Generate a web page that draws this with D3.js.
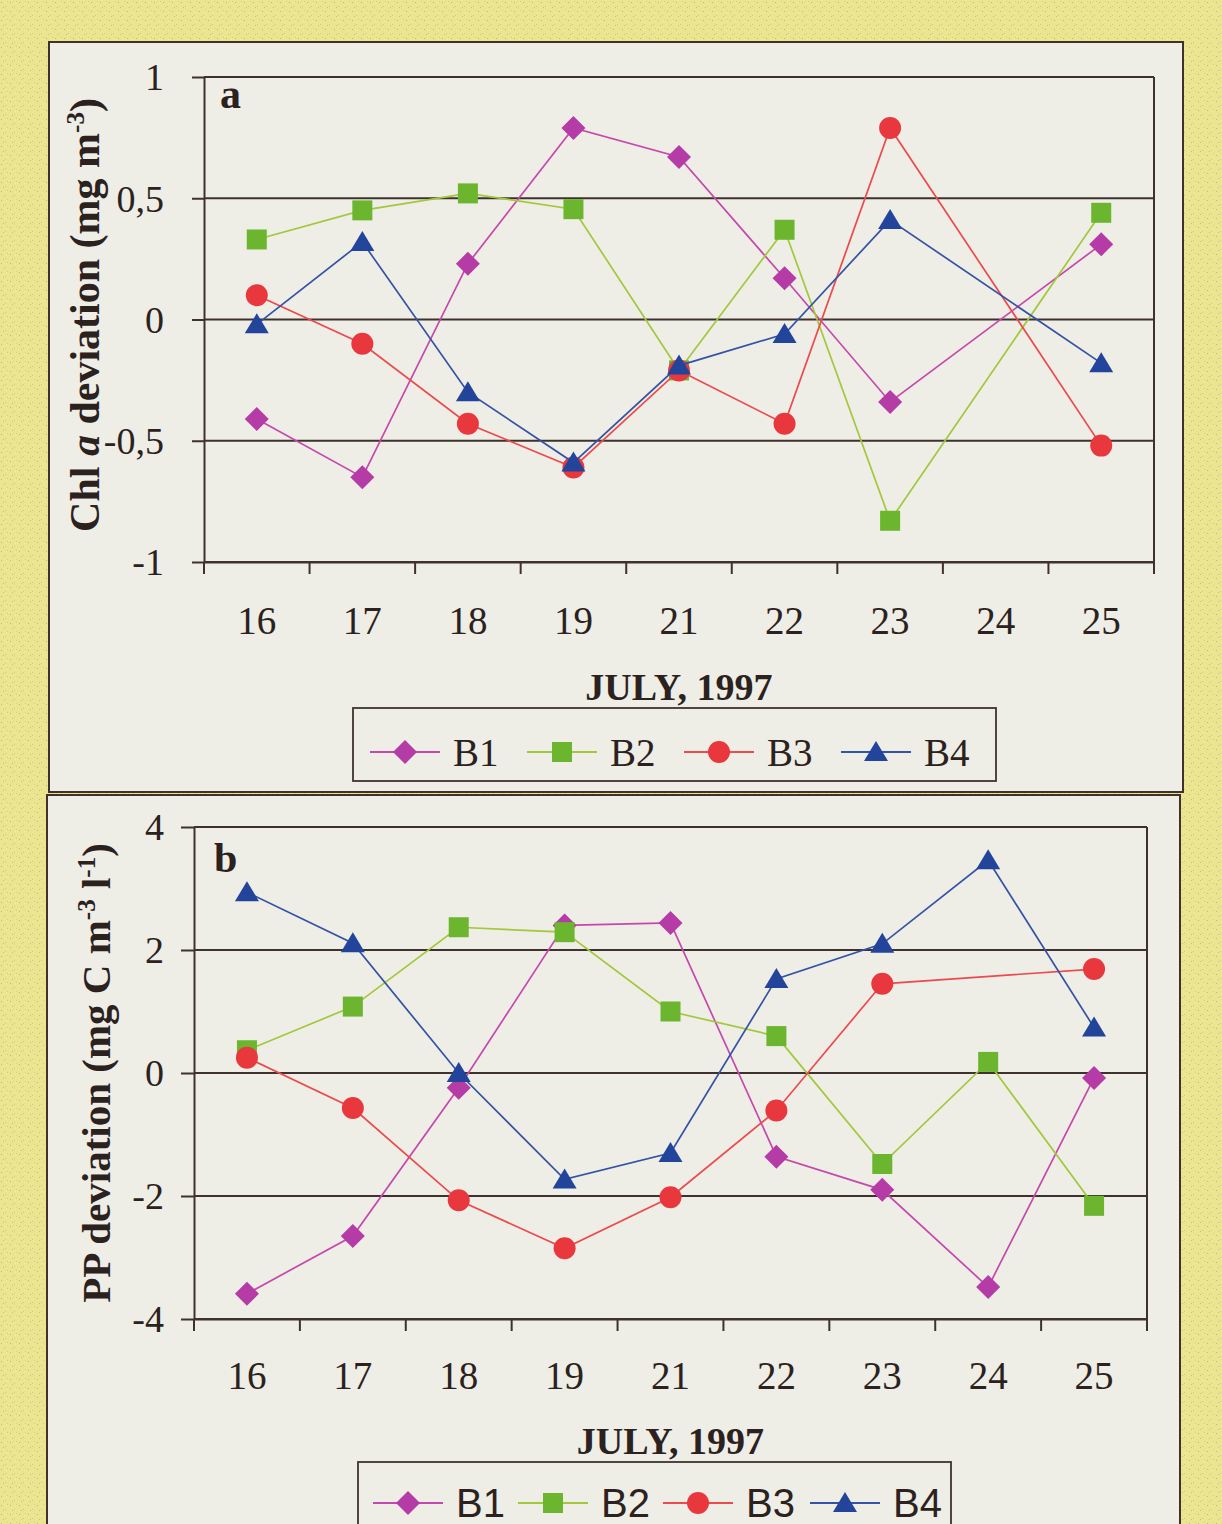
<!DOCTYPE html>
<html>
<head>
<meta charset="utf-8">
<script src="https://cdn.jsdelivr.net/npm/d3@7"></script>
<style>
  html, body { margin: 0; padding: 0; background: #ebe38e; }
  svg { display: block; }
</style>
</head>
<body>
<svg id="fig" width="1222" height="1524"></svg>
<script>
// Sampling days (July 1997) and stations
const days = ["16", "17", "18", "19", "21", "22", "23", "24", "25"];
const stations = ["B1", "B2", "B3", "B4"];

// Panel a: Chl a deviation (mg m-3); no sample on the 24th
const chlB1 = [-0.41, -0.65, 0.23, 0.79, 0.67, 0.17, -0.34, null, 0.31];
const chlB2 = [0.33, 0.45, 0.52, 0.455, -0.21, 0.37, -0.83, null, 0.44];
const chlB3 = [0.10, -0.10, -0.43, -0.61, -0.21, -0.43, 0.79, null, -0.52];
const chlB4 = [-0.02, 0.32, -0.30, -0.59, -0.19, -0.06, 0.41, null, -0.18];
const chlTicks = [-1, -0.5, 0, 0.5, 1];

// Panel b: PP deviation (mg C m-3 l-1)
const ppB1 = [-3.59, -2.65, -0.24, 2.40, 2.44, -1.36, -1.90, -3.48, -0.08];
const ppB2 = [0.37, 1.08, 2.37, 2.29, 1.00, 0.60, -1.48, 0.18, -2.16];
const ppB3 = [0.25, -0.57, -2.07, -2.85, -2.02, -0.61, 1.45, null, 1.69];
const ppB4 = [2.94, 2.11, 0.00, -1.73, -1.30, 1.53, 2.10, 3.46, 0.74];
const ppTicks = [-4, -2, 0, 2, 4];

const xTitle = "JULY, 1997";

const ink = "#3f322e";
const serif = "'Liberation Serif', 'Times New Roman', serif";
const sans = "'Liberation Sans', Arial, sans-serif";

const styles = {
  B1: { shape: "diamond", fill: "#b53ba6", line: "#c648ad" },
  B2: { shape: "square",  fill: "#6cb52e", line: "#a2c83c" },
  B3: { shape: "circle",  fill: "#e8383d", line: "#ec4a4c" },
  B4: { shape: "triangle", fill: "#22459b", line: "#3553a4" }
};

const svg = d3.select("#fig");

// speckled paper background
const defs = svg.append("defs");
const pat = defs.append("pattern").attr("id", "speck")
  .attr("width", 9).attr("height", 9).attr("patternUnits", "userSpaceOnUse");
pat.append("rect").attr("width", 9).attr("height", 9).attr("fill", "#ece58f");
[[1, 2, "#b9b58e"], [5, 6, "#c6c7a6"], [7, 1, "#d8cf86"], [3, 7, "#bfc0a2"], [6, 3, "#f3ee9c"]]
  .forEach(([px, py, c]) => pat.append("rect").attr("x", px).attr("y", py)
    .attr("width", 1).attr("height", 1).attr("fill", c));
svg.append("rect").attr("width", 1222).attr("height", 1524).attr("fill", "url(#speck)");

function markerPath(shape) {
  switch (shape) {
    case "diamond": return "M0,-12L12,0L0,12L-12,0Z";
    case "square": return "M-10,-10H10V10H-10Z";
    case "triangle": return "M0,-11L12,9L-12,9Z";
    default: return d3.arc()({ innerRadius: 0, outerRadius: 11, startAngle: 0, endAngle: 2 * Math.PI });
  }
}

const tickFmt = d => String(d).replace(".", ",");

function drawPanel(p) {
  const g = svg.append("g");

  g.append("rect")
    .attr("x", p.frame[0]).attr("y", p.frame[1])
    .attr("width", p.frame[2]).attr("height", p.frame[3])
    .attr("fill", "#eeede6").attr("stroke", ink).attr("stroke-width", 2);

  const x = d3.scaleBand().domain(days).range([p.left, p.right]);
  const y = d3.scaleLinear().domain(d3.extent(p.ticks)).range([p.bottom, p.top]);

  // horizontal gridlines
  g.append("g").selectAll("line").data(p.ticks).join("line")
    .attr("x1", p.left).attr("x2", p.right)
    .attr("y1", d => y(d)).attr("y2", d => y(d))
    .attr("stroke", ink).attr("stroke-width", 2);

  // right border of the plot area
  g.append("line").attr("x1", p.right).attr("x2", p.right)
    .attr("y1", p.top).attr("y2", p.bottom)
    .attr("stroke", ink).attr("stroke-width", 2);

  // value axis
  const yAxis = g.append("g").attr("transform", `translate(${p.left},0)`)
    .call(d3.axisLeft(y).tickValues(p.ticks).tickFormat(tickFmt)
      .tickSize(p.tickLen).tickSizeOuter(0).tickPadding(p.labelPad));
  yAxis.select(".domain").attr("stroke", ink).attr("stroke-width", 2);
  yAxis.selectAll(".tick line").attr("stroke", ink).attr("stroke-width", 2);
  yAxis.selectAll(".tick text").attr("fill", "#2b2220")
    .style("font-family", serif).style("font-size", "38px").attr("dy", "0.34em");

  // category axis: labels centred in each band, ticks between bands
  const xAxis = g.append("g").attr("transform", `translate(0,${p.bottom})`)
    .call(d3.axisBottom(x).tickSize(0).tickPadding(p.xLabelPad));
  xAxis.select(".domain").attr("stroke", ink).attr("stroke-width", 2);
  xAxis.selectAll(".tick text").attr("fill", "#2b2220")
    .style("font-family", serif).style("font-size", "39px");
  const bounds = days.map(d => x(d)).concat([p.right]);
  g.append("g").selectAll("line").data(bounds).join("line")
    .attr("x1", d => d).attr("x2", d => d)
    .attr("y1", p.bottom).attr("y2", p.bottom + 12)
    .attr("stroke", ink).attr("stroke-width", 2);

  // series
  const cx = d => x(d.day) + x.bandwidth() / 2;
  p.series.forEach((vals, i) => {
    const key = stations[i];
    const st = styles[key];
    const pts = vals.map((v, j) => ({ day: days[j], v })).filter(d => d.v !== null);
    g.append("path").datum(pts)
      .attr("d", d3.line().x(cx).y(d => y(d.v)))
      .attr("fill", "none").attr("stroke", st.line).attr("stroke-width", 1.7);
    g.append("g").selectAll("path").data(pts).join("path")
      .attr("transform", d => `translate(${cx(d)},${y(d.v)})`)
      .attr("d", markerPath(st.shape)).attr("fill", st.fill);
  });

  // panel letter
  g.append("text").attr("x", p.letterPos[0]).attr("y", p.letterPos[1])
    .text(p.letter).attr("fill", "#2b2220")
    .style("font-family", serif).style("font-weight", "bold").style("font-size", "42px");

  // axis titles
  const yt = g.append("text")
    .attr("transform", `translate(${p.yTitlePos[0]},${p.yTitlePos[1]}) rotate(-90)`)
    .attr("text-anchor", "middle").attr("fill", "#2b2220")
    .style("font-family", serif).style("font-weight", "bold").style("font-size", p.yTitleSize + "px");
  p.yTitle.forEach(part => {
    const t = yt.append("tspan").text(part.t);
    if (part.i) t.style("font-style", "italic");
    if (part.sup) t.attr("baseline-shift", "60%").style("font-size", "25px");
  });

  g.append("text").attr("x", (p.left + p.right) / 2).attr("y", p.xTitleY)
    .attr("text-anchor", "middle").text(xTitle).attr("fill", "#2b2220")
    .style("font-family", serif).style("font-weight", "bold").style("font-size", "38px");

  // legend
  const L = p.legend;
  g.append("rect").attr("x", L.box[0]).attr("y", L.box[1])
    .attr("width", L.box[2]).attr("height", L.box[3])
    .attr("fill", "none").attr("stroke", ink).attr("stroke-width", 1.8);
  stations.forEach((key, i) => {
    const st = styles[key];
    const mx = L.xs[i];
    g.append("line").attr("x1", mx - 35).attr("x2", mx + 35)
      .attr("y1", L.y).attr("y2", L.y).attr("stroke", st.line).attr("stroke-width", 1.8);
    g.append("path").attr("transform", `translate(${mx},${L.y})`)
      .attr("d", markerPath(st.shape)).attr("fill", st.fill);
    g.append("text").attr("x", mx + 48).attr("y", L.y).attr("dy", "0.35em")
      .text(key).attr("fill", "#2b2220")
      .style("font-family", L.font).style("font-size", L.size + "px");
  });
}

drawPanel({
  frame: [49, 42, 1134, 750],
  left: 204, right: 1154, top: 77, bottom: 562,
  ticks: chlTicks, tickLen: 12, labelPad: 28, xLabelPad: 44,
  series: [chlB1, chlB2, chlB3, chlB4],
  letter: "a", letterPos: [220, 108],
  yTitle: [{ t: "Chl " }, { t: "a", i: true }, { t: " deviation (mg m" }, { t: "-3", sup: true }, { t: ")" }],
  yTitleSize: 42, yTitlePos: [99, 315],
  xTitleY: 700,
  legend: { box: [353, 708, 643, 73], y: 752, xs: [405, 562, 719, 876], font: serif, size: 39 }
});

drawPanel({
  frame: [47, 795, 1133, 760],
  left: 194, right: 1147, top: 827, bottom: 1319,
  ticks: ppTicks, tickLen: 13, labelPad: 17, xLabelPad: 42,
  series: [ppB1, ppB2, ppB3, ppB4],
  letter: "b", letterPos: [214, 872],
  yTitle: [{ t: "PP deviation (mg C m" }, { t: "-3", sup: true }, { t: " l" }, { t: "-1", sup: true }, { t: ")" }],
  yTitleSize: 41, yTitlePos: [110, 1073],
  xTitleY: 1454,
  legend: { box: [358, 1462, 593, 90], y: 1503, xs: [408, 553, 698, 845], font: sans, size: 40 }
});
</script>
</body>
</html>
